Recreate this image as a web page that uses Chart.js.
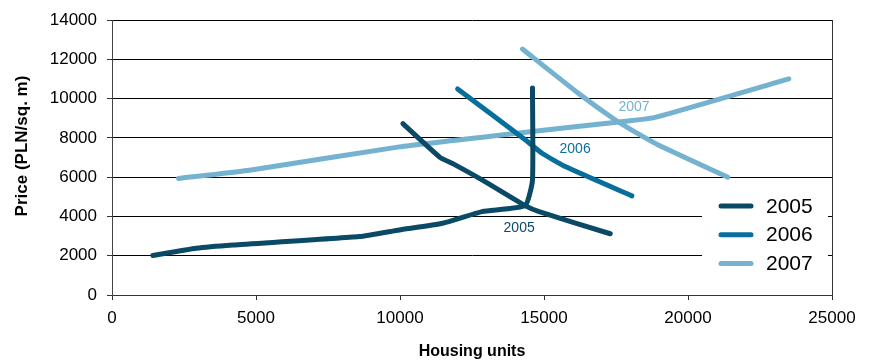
<!DOCTYPE html>
<html>
<head>
<meta charset="utf-8">
<script src="https://cdn.jsdelivr.net/npm/chart.js@4/dist/chart.umd.min.js"></script>
<style>
  html, body { margin: 0; padding: 0; background: #fff; }
  #wrap { width: 871px; height: 362px; }
</style>
</head>
<body>
<div id="wrap"><canvas id="chart" width="871" height="362"></canvas></div>
<script>
// years and colours
const years = ['2005', '2006', '2007'];
const yearColors = ['#0b4a67', '#086f9c', '#74b2d0'];

// 2005 supply (ends in a vertical stretch) and demand
const supply2005X = [1420, 2925, 4200, 8590, 9975, 11480, 12850, 14345, 14600, 14600];
const supply2005Y = [2010, 2385, 2550, 2975, 3315, 3655, 4250, 4550, 5850, 10550];
const demand2005X = [10100, 11400, 11850, 12865, 14345, 14830, 17300];
const demand2005Y = [8730, 7000, 6680, 5850, 4550, 4245, 3120];

// 2006 demand
const demand2006X = [12000, 14370, 14945, 15755, 18050];
const demand2006Y = [10500, 7880, 7210, 6530, 5050];

// 2007 supply and demand
const supply2007X = [2310, 4775, 9975, 13440, 17600, 18815, 23500];
const supply2007Y = [5940, 6360, 7545, 8140, 8815, 9035, 11015];
const demand2007X = [14250, 16215, 17490, 18065, 18990, 21380];
const demand2007Y = [12530, 10250, 8900, 8390, 7630, 6000];

// year labels written next to the curves
const noteYears = ['2007', '2006', '2005'];
const noteX = [18125, 16080, 14137];
const noteY = [9560, 7410, 3430];

// axes
const xMin = 0, xMax = 25000, xStep = 5000;
const yMin = 0, yMax = 14000, yStep = 2000;
const xTitle = 'Housing units';
const yTitle = 'Price (PLN/sq. m)';

const FONT = "'Liberation Sans Narrow', 'Liberation Sans', Arial, sans-serif";

function pts(xs, ys) {
  return xs.map((x, i) => ({ x: x, y: ys[i] }));
}

function curve(label, xs, ys, yearIdx) {
  return {
    label: label,
    data: pts(xs, ys),
    borderColor: yearColors[yearIdx],
    backgroundColor: yearColors[yearIdx],
    borderWidth: 5,
    borderCapStyle: 'round',
    borderJoinStyle: 'round',
    pointRadius: 0,
    tension: 0.15,
    fill: false
  };
}

// draws the y title, the year notes on the curves and the legend box
const extras = {
  id: 'extras',
  afterDatasetsDraw(chart) {
    const ctx = chart.ctx;
    const xs = chart.scales.x, ys = chart.scales.y;
    ctx.save();

    // y axis title
    ctx.save();
    ctx.translate(22, 146);
    ctx.rotate(-Math.PI / 2);
    ctx.font = 'bold 17px ' + FONT;
    ctx.fillStyle = '#000';
    ctx.textAlign = 'center';
    ctx.textBaseline = 'middle';
    ctx.fillText(yTitle, 0, 0);
    ctx.restore();

    // notes
    ctx.font = '14px ' + FONT;
    ctx.textAlign = 'center';
    ctx.textBaseline = 'middle';
    noteYears.forEach((yr, i) => {
      ctx.fillStyle = yearColors[years.indexOf(yr)];
      ctx.fillText(yr, xs.getPixelForValue(noteX[i]), ys.getPixelForValue(noteY[i]));
    });

    // legend
    ctx.fillStyle = '#fff';
    ctx.fillRect(702, 186, 126, 96);
    ctx.lineCap = 'round';
    ctx.lineWidth = 5;
    ctx.font = '21px ' + FONT;
    ctx.textAlign = 'left';
    years.forEach((yr, i) => {
      const y = 206 + i * 28.7;
      ctx.strokeStyle = yearColors[i];
      ctx.beginPath();
      ctx.moveTo(721, y);
      ctx.lineTo(751, y);
      ctx.stroke();
      ctx.fillStyle = '#000';
      ctx.fillText(yr, 766, y + 1);
    });
    ctx.restore();
  }
};

window.onload = function () {
  const ctx = document.getElementById('chart').getContext('2d');
  new Chart(ctx, {
    type: 'line',
    data: {
      datasets: [
        curve('2005 supply', supply2005X, supply2005Y, 0),
        curve('2005 demand', demand2005X, demand2005Y, 0),
        curve('2006 demand', demand2006X, demand2006Y, 1),
        curve('2007 supply', supply2007X, supply2007Y, 2),
        curve('2007 demand', demand2007X, demand2007Y, 2)
      ]
    },
    options: {
      responsive: false,
      animation: false,
      events: [],
      layout: { autoPadding: false, padding: { top: 19, right: 39, left: 0, bottom: 0 } },
      plugins: { legend: { display: false }, tooltip: { enabled: false } },
      scales: {
        x: {
          type: 'linear',
          min: xMin, max: xMax,
          ticks: { stepSize: xStep, color: '#000', font: { family: FONT, size: 17 }, padding: 8, maxRotation: 0, callback: v => String(v) },
          grid: { drawOnChartArea: false, drawTicks: true, tickLength: 5, color: '#333' },
          border: { color: '#333' },
          title: { display: true, text: xTitle, color: '#000', font: { family: FONT, size: 16, weight: 'bold' }, padding: { top: 0, bottom: 1 } },
          afterFit: s => { s.height = 67; }
        },
        y: {
          min: yMin, max: yMax,
          ticks: { stepSize: yStep, color: '#000', font: { family: FONT, size: 17 }, padding: 10, callback: v => String(v) },
          grid: { color: '#000', tickLength: 5, tickColor: '#333' },
          border: { color: '#444' },
          afterFit: s => { s.width = 112; }
        },
        y2: {
          position: 'right',
          min: yMin, max: yMax,
          ticks: { display: false },
          grid: { drawOnChartArea: false, drawTicks: false },
          border: { display: true, color: '#333' },
          afterFit: s => { s.width = 0; }
        }
      }
    },
    plugins: [extras]
  });
};
</script>
</body>
</html>
